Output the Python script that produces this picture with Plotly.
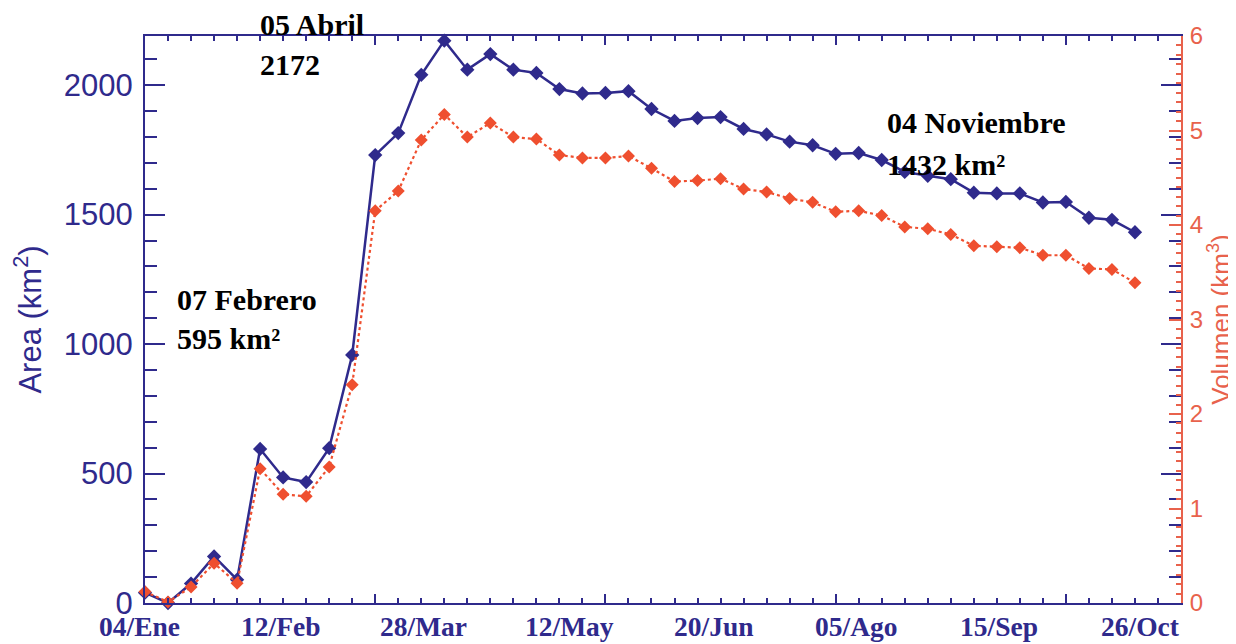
import plotly.graph_objects as go

# ---- data (8-day composites, index of the period) ----
periods = list(range(44))
area_km2 = [40, 0, 75, 180, 90, 595, 485, 467, 598, 958,
            1730, 1815, 2040, 2172, 2060, 2120, 2060, 2047, 1985, 1968,
            1970, 1977, 1908, 1862, 1873, 1877, 1831, 1810, 1782, 1768,
            1735, 1738, 1711, 1665, 1650, 1637, 1585, 1582, 1582, 1547,
            1549, 1488, 1480, 1432]
volume_km3 = [0.12, 0.01, 0.17, 0.42, 0.21, 1.42, 1.15, 1.13, 1.44, 2.31,
              4.15, 4.36, 4.90, 5.17, 4.93, 5.08, 4.93, 4.91, 4.74, 4.71,
              4.71, 4.73, 4.60, 4.46, 4.47, 4.49, 4.38, 4.35, 4.28, 4.24,
              4.14, 4.15, 4.10, 3.98, 3.96, 3.90, 3.78, 3.77, 3.76, 3.68,
              3.68, 3.54, 3.53, 3.39]
x_tick_labels = ["04/Ene", "12/Feb", "28/Mar", "12/May", "20/Jun", "05/Ago", "15/Sep", "26/Oct"]
x_tick_pos = [-0.22, 5.87, 12.09, 18.43, 24.70, 30.91, 37.09, 43.26]
y_left_ticks = [0, 500, 1000, 1500, 2000]
y_right_ticks = [0, 1, 2, 3, 4, 5, 6]

X_MAX = 45
BLUE = "#2f2a8c"
RED = "#ef4f2f"
RED_AX = "#e8624c"
SERIF = "Liberation Serif, Times New Roman, serif"
SANS = "Liberation Sans, Arial, sans-serif"

fig = go.Figure()
fig.add_trace(go.Scatter(
    x=periods, y=volume_km3, yaxis="y2", mode="lines+markers",
    line=dict(color=RED, width=2.2, dash="dot"),
    marker=dict(symbol="diamond", size=10, color=RED),
    cliponaxis=False, showlegend=False))
fig.add_trace(go.Scatter(
    x=periods, y=area_km2, yaxis="y", mode="lines+markers",
    line=dict(color=BLUE, width=2.5),
    marker=dict(symbol="diamond", size=11, color=BLUE),
    cliponaxis=False, showlegend=False))

fig.update_layout(
    width=1228, height=636,
    margin=dict(l=137, r=55, t=28, b=41),
    paper_bgcolor="white", plot_bgcolor="white",
    xaxis=dict(range=[0, X_MAX], tickvals=[0, 10, 20, 30, 40], ticks="inside",
               ticklen=9, tickwidth=2, tickcolor=BLUE, showticklabels=False,
               minor=dict(dtick=1, tick0=0, ticks="inside", ticklen=5, tickwidth=2, tickcolor=BLUE),
               showline=True, linecolor=BLUE, linewidth=2, mirror="ticks",
               showgrid=False, zeroline=False),
    yaxis=dict(range=[0, 2190], tickvals=y_left_ticks, ticks="inside", ticklen=20,
               tickwidth=2, tickcolor=BLUE,
               minor=dict(dtick=100, tick0=0, ticks="inside", ticklen=12, tickwidth=2, tickcolor=BLUE),
               showline=True, linecolor=BLUE, linewidth=2, mirror="ticks",
               tickfont=dict(family=SANS, size=31, color=BLUE),
               ticklabelstandoff=4,
               title=dict(text="Area (km<sup>2</sup>)", font=dict(family=SANS, size=31, color=BLUE), standoff=13),
               showgrid=False, zeroline=False, automargin=False),
    yaxis2=dict(range=[0, 6], overlaying="y", side="right", tickvals=y_right_ticks,
                ticks="inside", ticklen=12, tickwidth=2, tickcolor=RED_AX,
                minor=dict(dtick=0.1, tick0=0, ticks="inside", ticklen=5, tickwidth=1.5, tickcolor=RED_AX),
                showline=True, linecolor=RED_AX, linewidth=2,
                tickfont=dict(family=SANS, size=24, color=RED_AX),
                ticklabelstandoff=2,
                title=dict(text="Volumen (km<sup>3</sup>)", font=dict(family=SANS, size=26, color=RED_AX), standoff=2),
                showgrid=False, zeroline=False, automargin=False),
)

for lab, pos in zip(x_tick_labels, x_tick_pos):
    fig.add_annotation(x=pos / X_MAX, y=0, xref="paper", yref="paper", text=lab, showarrow=False,
                       xanchor="center", yanchor="middle", yshift=-23,
                       font=dict(family=SERIF, size=27.5, color=BLUE, weight="bold"))

notes = [("05 Abril", 0.109, 1.021), ("2172", 0.109, 0.949),
         ("07 Febrero", 0.029, 0.536), ("595 km²", 0.029, 0.466),
         ("04 Noviembre", 0.714, 0.848), ("1432 km²", 0.714, 0.774)]
for txt, xx, yy in notes:
    fig.add_annotation(x=xx, y=yy, xref="paper", yref="paper", text=txt, showarrow=False,
                       xanchor="left", yanchor="middle",
                       font=dict(family=SERIF, size=30, color="black", weight="bold"))

fig.write_html("out.html")
